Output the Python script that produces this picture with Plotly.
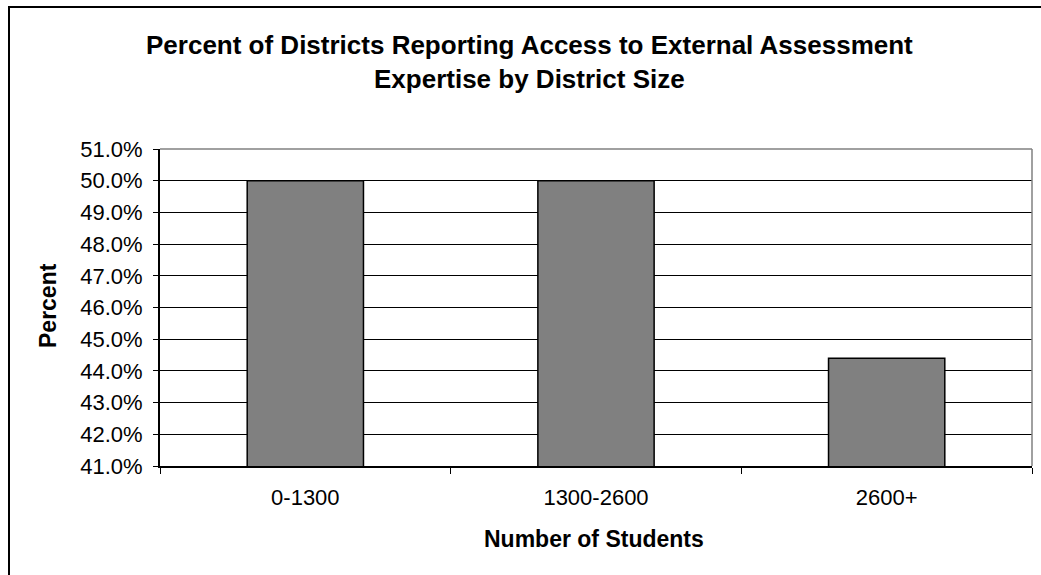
import plotly.graph_objects as go

# Survey results by district enrollment
categories = ["0-1300", "1300-2600", "2600+"]
percent_access = [50.0, 50.0, 44.4]

title_lines = ["Percent of Districts Reporting Access to External Assessment",
               "Expertise by District Size"]
x_title = "Number of Students"
y_title = "Percent"

FONT = "Arial, Liberation Sans, sans-serif"

W, H = 1041, 575
L, R, T, B = 160, 9, 149, 109
pw, ph = W - L - R, H - T - B


def px_x(x):
    return (x - L) / pw


def px_y(y):
    return (H - B - y) / ph


fig = go.Figure(
    go.Bar(
        x=categories,
        y=percent_access,
        marker=dict(color="#808080", line=dict(color="#000000", width=1.5)),
        width=0.4,
    )
)

fig.update_layout(
    width=W,
    height=H,
    margin=dict(l=L, r=R, t=T, b=B),
    paper_bgcolor="white",
    plot_bgcolor="white",
    showlegend=False,
    font=dict(family=FONT, color="black"),
)

fig.update_xaxes(
    type="category",
    showline=True,
    linecolor="black",
    linewidth=1.5,
    ticks="outside",
    tickson="boundaries",
    ticklen=6,
    tickcolor="black",
    tickfont=dict(size=22, family=FONT, color="black"),
    ticklabelstandoff=11,
    showgrid=False,
)

fig.update_yaxes(
    range=[41, 51],
    dtick=1,
    tick0=41,
    tickformat=".1f",
    ticksuffix="%",
    showline=True,
    linecolor="black",
    linewidth=2,
    ticks="outside",
    ticklen=5,
    tickcolor="black",
    tickfont=dict(size=22, family=FONT, color="black"),
    ticklabelstandoff=6,
    showgrid=True,
    gridcolor="black",
    gridwidth=1,
    zeroline=False,
)

shapes = [
    # plot area frame (top and right edges)
    dict(type="line", xref="paper", yref="paper", x0=0, x1=1, y0=1, y1=1,
         line=dict(color="#808080", width=1.5), layer="above"),
    dict(type="line", xref="paper", yref="paper", x0=1, x1=1, y0=0, y1=1,
         line=dict(color="#808080", width=1.5), layer="above"),
    # chart area border
    dict(type="rect", xref="paper", yref="paper",
         x0=px_x(9), x1=px_x(1100), y0=px_y(640), y1=px_y(7),
         line=dict(color="black", width=2), fillcolor="rgba(0,0,0,0)"),
]

annotations = [
    dict(text="<b>%s</b>" % title_lines[0], xref="paper", yref="paper",
         x=px_x(529), y=px_y(45), xanchor="center", yanchor="middle",
         showarrow=False, font=dict(size=26, family=FONT, color="black")),
    dict(text="<b>%s</b>" % title_lines[1], xref="paper", yref="paper",
         x=px_x(529), y=px_y(79), xanchor="center", yanchor="middle",
         showarrow=False, font=dict(size=26, family=FONT, color="black")),
    dict(text="<b>%s</b>" % x_title, xref="paper", yref="paper",
         x=px_x(594), y=px_y(539), xanchor="center", yanchor="middle",
         showarrow=False, font=dict(size=23, family=FONT, color="black")),
    dict(text="<b>%s</b>" % y_title, xref="paper", yref="paper",
         x=px_x(48), y=px_y(306), xanchor="center", yanchor="middle",
         textangle=-90, showarrow=False,
         font=dict(size=23, family=FONT, color="black")),
]

fig.update_layout(shapes=shapes, annotations=annotations)

fig.write_html("out.html")
